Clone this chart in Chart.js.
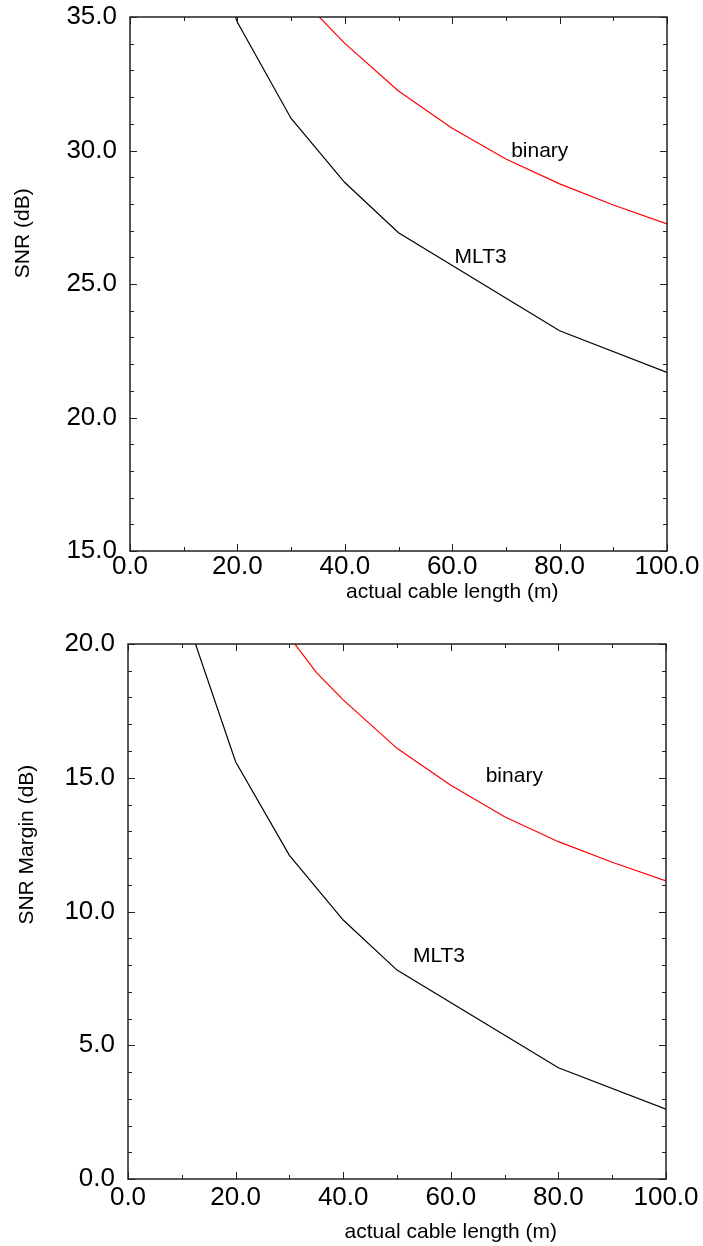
<!DOCTYPE html>
<html>
<head>
<meta charset="utf-8">
<script src="https://cdn.jsdelivr.net/npm/chart.js@4.4.1/dist/chart.umd.min.js"></script>
<style>
  html, body { margin: 0; padding: 0; background: #fff; }
  canvas { display: block; }
</style>
</head>
<body>
<canvas id="snrChart" width="703" height="623"></canvas>
<canvas id="marginChart" width="703" height="623"></canvas>
<script>
// cable length (m) for each series
const mlt3Length = [10, 20, 30, 40, 50, 80, 100]
const binaryLength = [30, 35, 40, 50, 60, 70, 80, 90, 100]

// SNR (dB)
const mlt3Snr = [40.6, 34.8, 31.2, 28.8, 26.92, 23.25, 21.69]
const binarySnr = [36.4, 35.05, 34.01, 32.23, 30.83, 29.68, 28.75, 27.96, 27.25]

// SNR margin (dB)
const mlt3Margin = [21.5, 15.6, 12.1, 9.68, 7.81, 4.16, 2.61]
const binaryMargin = [20.27, 18.94, 17.91, 16.1, 14.72, 13.54, 12.61, 11.84, 11.14]

const xTicks = [0, 20, 40, 60, 80, 100]
const snrTicks = [15, 20, 25, 30, 35]
const marginTicks = [0, 5, 10, 15, 20]

const FONT = "'Liberation Sans', Arial, sans-serif"

const toPoints = (xs, ys) => xs.map((x, i) => ({ x, y: ys[i] }))

// frame, inward ticks, axis titles and curve labels
const framePlugin = {
    id: 'frame',
    afterDatasetsDraw(chart, args, opts) {
        const { ctx, chartArea: a, scales: { x, y } } = chart

        ctx.save()
        ctx.strokeStyle = '#222'
        ctx.lineWidth = 1

        for (let v = x.min; v <= x.max + 1e-6; v += opts.xMinor) {
            const px = Math.round(x.getPixelForValue(v)) + 0.5
            const len = Math.abs(v % opts.xMajor) < 1e-6 ? 7 : 4
            ctx.beginPath()
            ctx.moveTo(px, a.bottom); ctx.lineTo(px, a.bottom - len)
            ctx.moveTo(px, a.top); ctx.lineTo(px, a.top + len)
            ctx.stroke()
        }
        for (let v = y.min; v <= y.max + 1e-6; v += opts.yMinor) {
            const py = Math.round(y.getPixelForValue(v)) + 0.5
            const len = Math.abs(v % opts.yMajor) < 1e-6 ? 7 : 4
            ctx.beginPath()
            ctx.moveTo(a.left, py); ctx.lineTo(a.left + len, py)
            ctx.moveTo(a.right, py); ctx.lineTo(a.right - len, py)
            ctx.stroke()
        }

        ctx.lineWidth = 1.5
        ctx.strokeRect(a.left, a.top, a.width, a.height)

        ctx.fillStyle = '#000'
        ctx.font = `21px ${FONT}`
        ctx.textAlign = 'center'
        ctx.textBaseline = 'alphabetic'
        opts.notes.forEach(n => {
            ctx.fillText(n.text, x.getPixelForValue(n.x), y.getPixelForValue(n.y))
        })

        ctx.fillText(opts.xTitle, x.getPixelForValue(opts.xTitleAt), a.bottom + opts.xTitleGap)

        ctx.translate(opts.yTitleLeft, y.getPixelForValue(opts.yTitleAt))
        ctx.rotate(-Math.PI / 2)
        ctx.textBaseline = 'middle'
        ctx.fillText(opts.yTitle, 0, 0)
        ctx.restore()
    }
}

function makeChart(id, cfg) {
    const canvas = document.getElementById(id)

    return new Chart(canvas.getContext('2d'), {
        type: 'line',
        data: {
            datasets: [
                {
                    label: 'binary',
                    data: toPoints(binaryLength, cfg.binary),
                    borderColor: '#ff0000',
                    borderWidth: 1.2,
                    pointRadius: 0,
                    tension: 0,
                    fill: false
                },
                {
                    label: 'MLT3',
                    data: toPoints(mlt3Length, cfg.mlt3),
                    borderColor: '#000000',
                    borderWidth: 1.2,
                    pointRadius: 0,
                    tension: 0,
                    fill: false
                }
            ]
        },
        options: {
            responsive: false,
            animation: false,
            events: [],
            layout: { padding: cfg.padding },
            plugins: {
                legend: { display: false },
                tooltip: { enabled: false },
                frame: {
                    xMinor: 10, xMajor: 20,
                    yMinor: 1, yMajor: 5,
                    notes: cfg.notes,
                    xTitle: 'actual cable length (m)',
                    xTitleAt: 60,
                    xTitleGap: cfg.xTitleGap,
                    yTitle: cfg.yTitle,
                    yTitleAt: cfg.yTitleAt,
                    yTitleLeft: cfg.yTitleLeft
                }
            },
            scales: {
                x: {
                    type: 'linear',
                    min: 0,
                    max: 100,
                    afterBuildTicks: s => { s.ticks = xTicks.map(value => ({ value })) },
                    afterFit: s => {
                        s.height = cfg.xHeight
                        s.paddingLeft = 0
                        s.paddingRight = 0
                    },
                    grid: { display: false, drawTicks: false, tickLength: 0 },
                    border: { display: false },
                    ticks: {
                        autoSkip: false,
                        maxRotation: 0,
                        padding: cfg.xPad,
                        color: '#000',
                        font: { family: FONT, size: 26 },
                        callback: v => Number(v).toFixed(1)
                    }
                },
                y: {
                    type: 'linear',
                    min: cfg.yTicks[0],
                    max: cfg.yTicks[cfg.yTicks.length - 1],
                    afterBuildTicks: s => { s.ticks = cfg.yTicks.map(value => ({ value })) },
                    afterFit: s => {
                        s.width = cfg.yWidth
                        s.paddingTop = 0
                        s.paddingBottom = 0
                    },
                    grid: { display: false, drawTicks: false, tickLength: 0 },
                    border: { display: false },
                    ticks: {
                        autoSkip: false,
                        padding: 13,
                        color: '#000',
                        font: { family: FONT, size: 26 },
                        callback: v => Number(v).toFixed(1)
                    }
                }
            }
        },
        plugins: [framePlugin]
    })
}

makeChart('snrChart', {
    mlt3: mlt3Snr,
    binary: binarySnr,
    yTicks: snrTicks,
    padding: { top: 17, right: 36, bottom: 0, left: 0 },
    yWidth: 130,
    xHeight: 72,
    xPad: 0,
    xTitleGap: 47,
    yTitle: 'SNR (dB)',
    yTitleAt: 26.9,
    yTitleLeft: 23,
    notes: [
        { text: 'binary', x: 76.3, y: 29.77 },
        { text: 'MLT3', x: 65.3, y: 25.78 }
    ]
})

makeChart('marginChart', {
    mlt3: mlt3Margin,
    binary: binaryMargin,
    yTicks: marginTicks,
    padding: { top: 21, right: 37, bottom: 0, left: 0 },
    yWidth: 128,
    xHeight: 67,
    xPad: 3,
    xTitleGap: 59,
    yTitle: 'SNR Margin (dB)',
    yTitleAt: 12.5,
    yTitleLeft: 27,
    notes: [
        { text: 'binary', x: 71.8, y: 14.85 },
        { text: 'MLT3', x: 57.8, y: 8.12 }
    ]
})
</script>
</body>
</html>
